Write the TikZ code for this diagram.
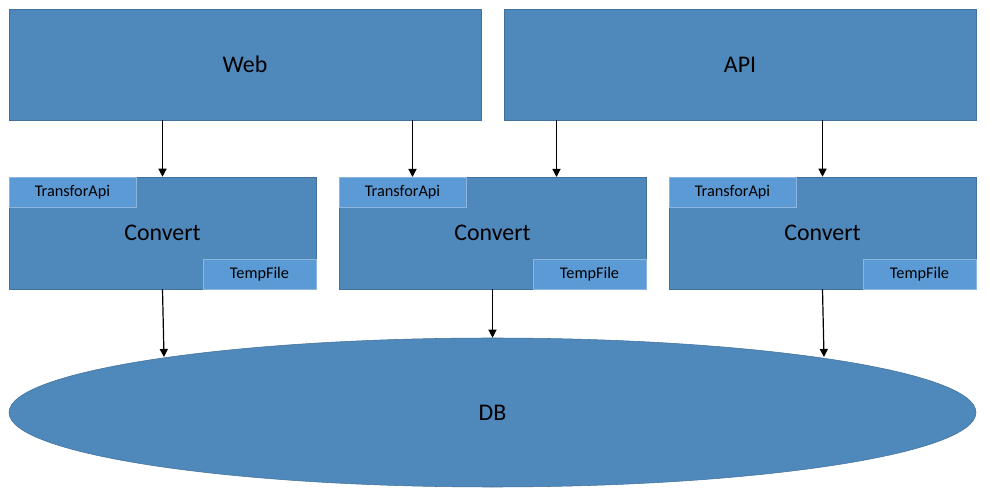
\documentclass[tikz,border=0pt]{standalone}
\usepackage{fontspec}
\setmainfont{Carlito}
\usetikzlibrary{shapes.geometric,arrows.meta}
\definecolor{boxfill}{HTML}{4F88BB}
\definecolor{boxline}{HTML}{41719C}
\definecolor{tagfill}{HTML}{5B9AD5}
\definecolor{tagline}{HTML}{8DB5DE}
\tikzset{
  block/.style={rectangle, draw=boxline, fill=boxfill, inner sep=0pt, font=\fontsize{17.9}{20}\selectfont},
  tag/.style={rectangle, draw=tagline, fill=tagfill, inner sep=0pt, minimum height=22.5pt, font=\fontsize{12.2}{14}\selectfont},
  link/.style={-{Triangle[length=6pt,width=6pt]}, line width=0.9pt}
}
\begin{document}
\begin{tikzpicture}[x=0.75pt, y=-0.75pt]
\useasboundingbox (0,0) rectangle (988,498);
\node (web) at (245,64.5) [block, minimum width=354pt, minimum height=83.25pt]{Web};
\node (api) at (740,64.5) [block, minimum width=354pt, minimum height=83.25pt]{API};
\node (db) at (492.5,412.5) [ellipse, draw=boxline, fill=boxfill, inner sep=0pt, minimum width=725.25pt, minimum height=111.75pt, font=\fontsize{17.9}{20}\selectfont]{DB};
\node (conv1) at (162.5,233) [block, minimum width=230.25pt, minimum height=84pt]{Convert};
\node (conv2) at (492.5,233) [block, minimum width=230.25pt, minimum height=84pt]{Convert};
\node (conv3) at (822.5,233) [block, minimum width=230.25pt, minimum height=84pt]{Convert};
\node (api1) [tag, anchor=north west, minimum width=95.25pt] at (conv1.north west) {TransforApi};
\node (api2) [tag, anchor=north west, minimum width=95.25pt] at (conv2.north west) {TransforApi};
\node (api3) [tag, anchor=north west, minimum width=95.25pt] at (conv3.north west) {TransforApi};
\node (tmp1) [tag, anchor=south east, minimum width=84.75pt] at (conv1.south east) {TempFile};
\node (tmp2) [tag, anchor=south east, minimum width=84.75pt] at (conv2.south east) {TempFile};
\node (tmp3) [tag, anchor=south east, minimum width=84.75pt] at (conv3.south east) {TempFile};
\coordinate (in2a) at (412.5,177);
\coordinate (in2b) at (556.5,177);
\coordinate (hit1) at (164,357);
\coordinate (hit3) at (824,357);
\draw[link] (web.south -| conv1.north) -- (conv1.north);
\draw[link] (web.south -| in2a) -- (in2a);
\draw[link] (api.south -| in2b) -- (in2b);
\draw[link] (api.south -| conv3.north) -- (conv3.north);
\draw[link] (conv1.south) -- (hit1);
\draw[link] (conv2.south) -- (db.north);
\draw[link] (conv3.south) -- (hit3);
\end{tikzpicture}
\end{document}
